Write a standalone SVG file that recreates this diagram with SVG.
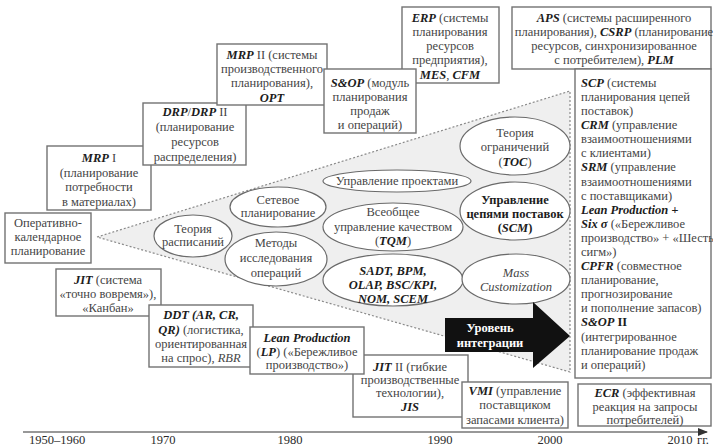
<svg xmlns="http://www.w3.org/2000/svg" width="713" height="448" viewBox="0 0 713 448">
  <style>
    .box { fill: #ffffff; stroke: #727272; stroke-width: 1.4; }
    .ell { fill: #ffffff; stroke: #6a6a6a; stroke-width: 1.2; }
    .t { font-family: "Liberation Serif", "DejaVu Serif", serif; font-size: 12.5px; fill: #454545; }
    .c { text-anchor: middle; }
    .bi { font-weight: bold; font-style: italic; fill: #1c1c1c; }
    .b { font-weight: bold; fill: #1c1c1c; }
    .i { font-style: italic; }
    .yr { font-family: "Liberation Serif", "DejaVu Serif", serif; font-size: 12.5px; fill: #2a2a2a; text-anchor: middle; }
  </style>
  <defs>
    <marker id="axisHead" markerWidth="10" markerHeight="8" refX="9" refY="4" orient="auto" markerUnits="userSpaceOnUse">
      <path d="M0,0 L10,4 L0,8 Z" fill="#333"/>
    </marker>
  </defs>

  <rect width="713" height="448" fill="#ffffff"/>

  <!-- integration funnel -->
  <g id="funnel">
    <polygon points="97,237 570,91 570,372" fill="#efefef" stroke="#8a8a8a" stroke-width="1.2" stroke-dasharray="2 2"/>
  </g>

  <!-- methods inside the funnel -->
  <g id="scheduling">
    <ellipse class="ell" cx="193" cy="236" rx="39" ry="21"/>
    <text class="t c" x="193" y="233">Теория</text>
    <text class="t c" x="193" y="246">расписаний</text>
  </g>
  <g id="network-planning">
    <ellipse class="ell" cx="278" cy="207" rx="48" ry="20"/>
    <text class="t c" x="278" y="204">Сетевое</text>
    <text class="t c" x="278" y="217">планирование</text>
  </g>
  <g id="operations-research">
    <ellipse class="ell" cx="276" cy="259" rx="51" ry="27"/>
    <text class="t c" x="276" y="247">Методы</text>
    <text class="t c" x="276" y="262">исследования</text>
    <text class="t c" x="276" y="277">операций</text>
  </g>
  <g id="project-management">
    <ellipse class="ell" cx="397" cy="181" rx="74" ry="11"/>
    <text class="t c" x="397" y="185">Управление проектами</text>
  </g>
  <g id="tqm">
    <ellipse class="ell" cx="393" cy="227" rx="70" ry="24"/>
    <text class="t c" x="393" y="216">Всеобщее</text>
    <text class="t c" x="393" y="231">управление качеством</text>
    <text class="t c" x="393" y="245">(<tspan class="bi">TQM</tspan>)</text>
  </g>
  <g id="toc">
    <ellipse class="ell" cx="515" cy="146" rx="55" ry="29"/>
    <text class="t c" x="515" y="137">Теория</text>
    <text class="t c" x="515" y="151">ограничений</text>
    <text class="t c" x="515" y="166">(<tspan class="bi">TOC</tspan>)</text>
  </g>
  <g id="scm">
    <ellipse class="ell" cx="515" cy="211" rx="55" ry="29"/>
    <text class="t c b" x="515" y="204">Управление</text>
    <text class="t c b" x="515" y="218">цепями поставок</text>
    <text class="t c b" x="515" y="232">(<tspan class="bi">SCM</tspan>)</text>
  </g>
  <g id="bpm-tools">
    <ellipse class="ell" cx="393" cy="280" rx="70" ry="26"/>
    <text class="t c bi" x="393" y="275">SADT, BPM,</text>
    <text class="t c bi" x="393" y="289">OLAP, BSC/KPI,</text>
    <text class="t c bi" x="393" y="303">NOM, SCEM</text>
  </g>
  <g id="mass-customization">
    <ellipse class="ell" cx="516" cy="279" rx="54" ry="25"/>
    <text class="t c i" x="516" y="277">Mass</text>
    <text class="t c i" x="516" y="291">Customization</text>
  </g>

  <!-- integration level arrow -->
  <g id="integration-level">
    <polygon points="445,318 533,318 533,302 570,336 533,368 533,352 445,352" fill="#111111"/>
    <text class="t c b" x="490" y="332" style="fill:#ffffff">Уровень</text>
    <text class="t c b" x="490" y="347" style="fill:#ffffff">интеграции</text>
  </g>

  <!-- systems above the funnel -->
  <g id="mrp1">
    <rect class="box" x="47" y="146" width="104" height="64"/>
    <text class="t c" x="99" y="162"><tspan class="bi">MRP</tspan> I</text>
    <text class="t c" x="99" y="177">(планирование</text>
    <text class="t c" x="99" y="191">потребности</text>
    <text class="t c" x="99" y="206">в материалах)</text>
  </g>
  <g id="drp">
    <rect class="box" x="143" y="103" width="103" height="62"/>
    <text class="t c" x="195" y="116"><tspan class="bi">DRP</tspan>/<tspan class="bi">DRP</tspan> II</text>
    <text class="t c" x="195" y="131">(планирование</text>
    <text class="t c" x="195" y="146">ресурсов</text>
    <text class="t c" x="195" y="161">распределения)</text>
  </g>
  <g id="mrp2">
    <rect class="box" x="217" y="44" width="110" height="61"/>
    <text class="t c" x="272" y="59"><tspan class="bi">MRP</tspan> II (системы</text>
    <text class="t c" x="272" y="73">производственного</text>
    <text class="t c" x="272" y="87">планирования),</text>
    <text class="t c bi" x="272" y="102">OPT</text>
  </g>
  <g id="erp">
    <rect class="box" x="402" y="7" width="97" height="76"/>
    <text class="t c" x="450" y="22"><tspan class="bi">ERP</tspan> (системы</text>
    <text class="t c" x="450" y="36">планирования</text>
    <text class="t c" x="450" y="50">ресурсов</text>
    <text class="t c" x="450" y="64">предприятия),</text>
    <text class="t c" x="450" y="79"><tspan class="bi">MES</tspan>, <tspan class="bi">CFM</tspan></text>
  </g>
  <g id="sop">
    <rect class="box" x="324" y="69" width="92" height="64"/>
    <text class="t c" x="370" y="87"><tspan class="bi">S&amp;OP</tspan> (модуль</text>
    <text class="t c" x="370" y="101">планирования</text>
    <text class="t c" x="370" y="115">продаж</text>
    <text class="t c" x="370" y="129">и операций)</text>
  </g>
  <g id="aps">
    <rect class="box" x="512" y="7" width="199" height="62"/>
    <text class="t c" x="614" y="22"><tspan class="bi">APS</tspan> (системы расширенного</text>
    <text class="t c" x="614" y="36">планирования), <tspan class="bi">CSRP</tspan> (планирование</text>
    <text class="t c" x="614" y="50">ресурсов, синхронизированное</text>
    <text class="t c" x="614" y="64">с потребителем), <tspan class="bi">PLM</tspan></text>
  </g>
  <g id="scp-list">
    <rect class="box" x="575" y="69" width="136" height="309"/>
    <text class="t" x="581" y="87"><tspan class="bi">SCP</tspan> (системы</text>
    <text class="t" x="581" y="101">планирования цепей</text>
    <text class="t" x="581" y="115">поставок)</text>
    <text class="t" x="581" y="129"><tspan class="bi">CRM</tspan> (управление</text>
    <text class="t" x="581" y="143">взаимоотношениями</text>
    <text class="t" x="581" y="157">с клиентами)</text>
    <text class="t" x="581" y="171"><tspan class="bi">SRM</tspan> (управление</text>
    <text class="t" x="581" y="186">взаимоотношениями</text>
    <text class="t" x="581" y="200">с поставщиками)</text>
    <text class="t bi" x="581" y="214">Lean Production +</text>
    <text class="t" x="581" y="228"><tspan class="bi">Six σ</tspan> («Бережливое</text>
    <text class="t" x="581" y="242">производство» + «Шесть</text>
    <text class="t" x="581" y="256">сигм»)</text>
    <text class="t" x="581" y="270"><tspan class="bi">CPFR</tspan> (совместное</text>
    <text class="t" x="581" y="284">планирование,</text>
    <text class="t" x="581" y="298">прогнозирование</text>
    <text class="t" x="581" y="312">и пополнение запасов)</text>
    <text class="t b" x="581" y="326"><tspan class="bi">S&amp;OP</tspan> II</text>
    <text class="t" x="581" y="341">(интегрированное</text>
    <text class="t" x="581" y="355">планирование продаж</text>
    <text class="t" x="581" y="369">и операций)</text>
  </g>

  <!-- systems below the funnel -->
  <g id="scheduling-planning">
    <rect class="box" x="5" y="213" width="86" height="50"/>
    <text class="t c" x="48" y="227">Оперативно-</text>
    <text class="t c" x="48" y="241">календарное</text>
    <text class="t c" x="48" y="255">планирование</text>
  </g>
  <g id="jit">
    <rect class="box" x="56" y="269" width="105" height="47"/>
    <text class="t c" x="108" y="284"><tspan class="bi">JIT</tspan> (система</text>
    <text class="t c" x="108" y="298">«точно вовремя»),</text>
    <text class="t c" x="108" y="312">«Канбан»</text>
  </g>
  <g id="ddt">
    <rect class="box" x="149" y="305" width="104" height="62"/>
    <text class="t c bi" x="201" y="319">DDT (AR, CR,</text>
    <text class="t c" x="201" y="334"><tspan class="bi">QR)</tspan> (логистика,</text>
    <text class="t c" x="201" y="348">ориентированная</text>
    <text class="t c" x="201" y="362">на спрос), <tspan class="i">RBR</tspan></text>
  </g>
  <g id="jit2">
    <rect class="box" x="353" y="355" width="115" height="62"/>
    <text class="t c" x="410" y="371"><tspan class="bi">JIT</tspan> II (гибкие</text>
    <text class="t c" x="410" y="384">производственные</text>
    <text class="t c" x="410" y="397">технологии),</text>
    <text class="t c bi" x="410" y="411">JIS</text>
  </g>
  <g id="lean">
    <rect class="box" x="250" y="327" width="114" height="47"/>
    <text class="t c bi" x="307" y="342">Lean Production</text>
    <text class="t c" x="307" y="356">(<tspan class="bi">LP</tspan>) («Бережливое</text>
    <text class="t c" x="307" y="369">производство»)</text>
  </g>
  <g id="vmi">
    <rect class="box" x="462" y="382" width="106" height="46"/>
    <text class="t c" x="515" y="395"><tspan class="bi">VMI</tspan> (управление</text>
    <text class="t c" x="515" y="409">поставщиком</text>
    <text class="t c" x="515" y="424">запасами клиента)</text>
  </g>
  <g id="ecr">
    <rect class="box" x="578" y="384" width="133" height="42"/>
    <text class="t c" x="645" y="397"><tspan class="bi">ECR</tspan> (эффективная</text>
    <text class="t c" x="645" y="411">реакция на запросы</text>
    <text class="t c" x="645" y="424">потребителей)</text>
  </g>

  <!-- time axis -->
  <g id="connectors">
    <line x1="23" y1="432" x2="707" y2="432" stroke="#333" stroke-width="1.2" marker-end="url(#axisHead)"/>
  </g>
  <g id="years">
    <text class="yr" x="57" y="444">1950–1960</text>
    <text class="yr" x="163" y="444">1970</text>
    <text class="yr" x="290" y="444">1980</text>
    <text class="yr" x="440" y="444">1990</text>
    <text class="yr" x="550" y="444">2000</text>
    <text class="yr" x="680" y="444">2010</text>
    <text class="yr" x="703" y="444">гг.</text>
  </g>
</svg>
